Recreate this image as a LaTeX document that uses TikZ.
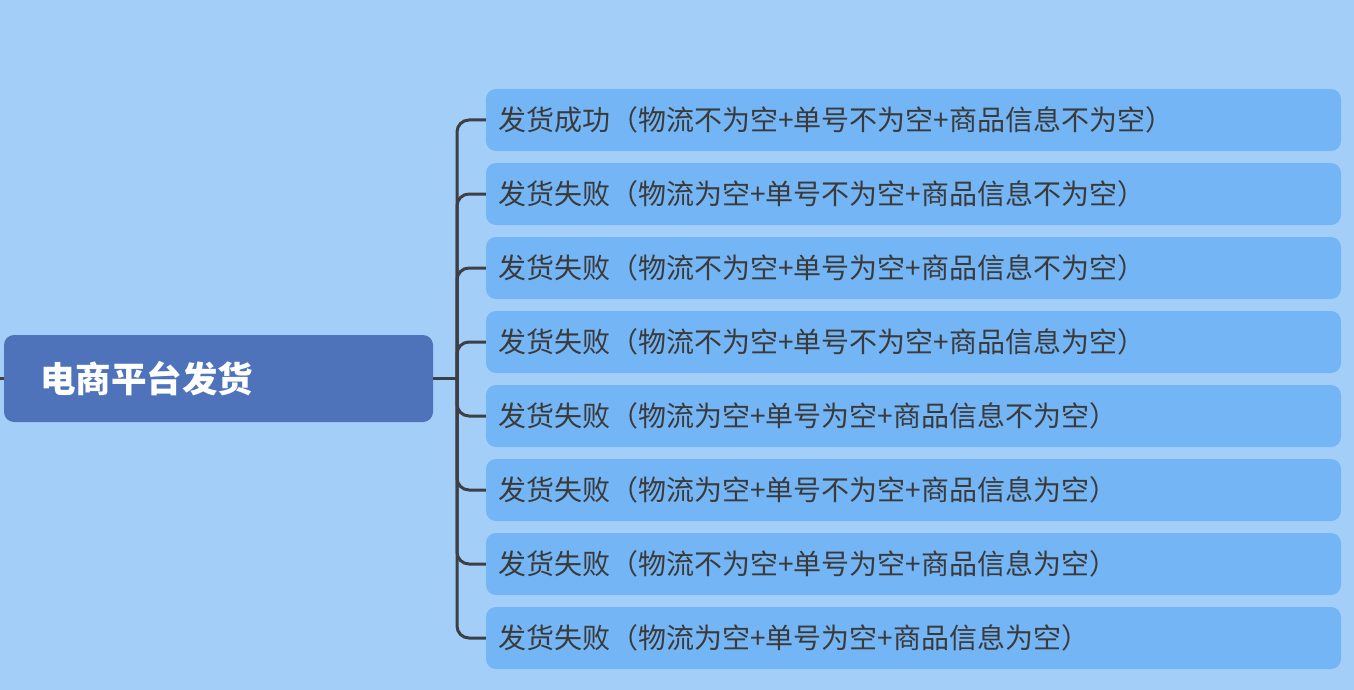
\documentclass[tikz,border=0pt]{standalone}
\usepackage{fontspec}
\setmainfont{Noto Sans CJK SC}
\definecolor{bg}{HTML}{A3CEF8}
\definecolor{rootc}{HTML}{4E73BA}
\definecolor{childc}{HTML}{74B5F5}
\definecolor{linec}{HTML}{3C3F44}
\definecolor{txt}{HTML}{3A3A3A}
\begin{document}
\begin{tikzpicture}[x=1pt,y=-1pt,
  rootbox/.style={fill=rootc,rounded corners=10pt,text=white,font=\fontsize{35.5}{38}\selectfont\bfseries,minimum width=429pt,minimum height=87pt,inner xsep=36pt,text width=357pt,align=left},
  childbox/.style={fill=childc,rounded corners=10pt,text=txt,font=\fontsize{28}{30}\selectfont,minimum width=855pt,minimum height=62pt,inner xsep=12pt,text width=831pt,align=left},
  conn/.style={draw=linec,line width=3pt,rounded corners=12pt}]
\fill[bg] (0,0) rectangle (1354,690);
\useasboundingbox (0,0) rectangle (1354,690);
\node[rootbox] (root) at (218.5,378.5) {电商平台发货};
\coordinate (j) at (457,378.5);
\coordinate (s) at (0,378.5);
\draw[conn] (s) -- (root.west);
\draw[conn] (root.east) -- (j);
\foreach \i/\t in {1/发货成功（物流不为空+单号不为空+商品信息不为空）,
  2/发货失败（物流为空+单号不为空+商品信息不为空）,
  3/发货失败（物流不为空+单号为空+商品信息不为空）,
  4/发货失败（物流不为空+单号不为空+商品信息为空）,
  5/发货失败（物流为空+单号为空+商品信息不为空）,
  6/发货失败（物流为空+单号不为空+商品信息为空）,
  7/发货失败（物流不为空+单号为空+商品信息为空）,
  8/发货失败（物流为空+单号为空+商品信息为空）}{
  \node[childbox] (c\i) at (913.5,{46+74*\i}) {\t};
  \draw[conn] (j) |- (c\i.west);
}
\end{tikzpicture}
\end{document}
